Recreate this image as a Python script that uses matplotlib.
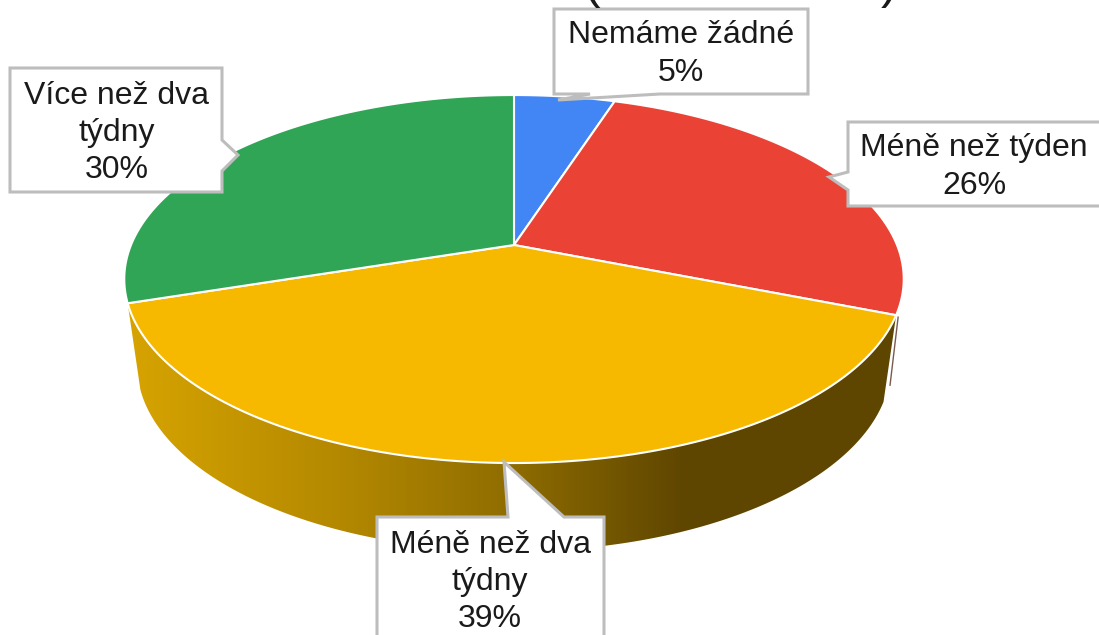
#coding:utf-8
import numpy as np
from matplotlib import pyplot as plt
from matplotlib.colors import LinearSegmentedColormap
from matplotlib.patches import Polygon

plt.rcParams['font.family'] = ['Liberation Sans', 'DejaVu Sans']

# data
categories = ['Nemáme žádné', 'Méně než týden', 'Méně než dva\ntýdny', 'Více než dva\ntýdny']
shares = [5, 26, 39, 30]
colors = ['#4285f4', '#ea4335', '#f7b900', '#30a555']

# pie geometry in pixels (perspective view of a disc)
CX, CY = 514, 245
R, A, K = 383, 177.7, 0.185
LOW_CY, LOW_SX, LOW_SY = 331, 0.967, 1.01

# callouts: box x0, x1, y0, y1 and pointer outline, text centre
boxes = [
    ((554, 808, 9, 94), [(660, 94), (558, 100), (590, 94)], 'bottom', (681, 54)),
    ((848, 1110, 122, 206), [(848, 190), (829, 177), (848, 172)], 'left', (974, 167)),
    ((377, 604, 517, 650), [(508, 517), (504, 462), (564, 517)], 'top', (490, 582)),
    ((10, 222, 68, 192), [(222, 140), (238, 155), (222, 171)], 'right', (117, 133)),
]


def rim(deg):
    # clockwise angle from 12 o'clock -> pixel on the top disc
    t = np.radians(deg)
    u, v = np.sin(t), np.cos(t)
    d = 1 + K * v
    return CX + R * u / d, CY - A * v / d


def low_rim(deg):
    x, y = rim(deg)
    return CX + LOW_SX * (x - CX), LOW_CY + LOW_SY * (y - CY)


def callout(box, pointer, side):
    x0, x1, y0, y1 = box
    if side == 'bottom':
        pts = [(x0, y0), (x1, y0), (x1, y1)] + pointer + [(x0, y1)]
    elif side == 'left':
        pts = [(x0, y0), (x1, y0), (x1, y1), (x0, y1)] + pointer
    elif side == 'top':
        pts = [(x0, y0)] + pointer + [(x1, y0), (x1, y1), (x0, y1)]
    else:
        pts = [(x0, y0), (x1, y0)] + pointer + [(x1, y1), (x0, y1)]
    return pts


fig = plt.figure(figsize=(10.99, 6.35), dpi=100)
ax = fig.add_axes([0, 0, 1, 1])

edges = 360 * np.cumsum([0] + shares) / sum(shares)

# side wall of the yellow slice, shaded left to right
a0, a1 = edges[2], edges[3]
ang = np.linspace(a0, a1, 200)
side_pts = np.vstack([np.column_stack(rim(ang)), np.column_stack(low_rim(ang[::-1]))])
side_cmap = LinearSegmentedColormap.from_list('side', [
    (0.0, '#d6a300'), (0.28, '#b38800'), (0.50, '#8e6c00'), (0.72, '#5f4600'), (1.0, '#5f4600')])
img = ax.imshow(np.linspace(0, 1, 400)[None, :], cmap=side_cmap, aspect='auto',
                extent=(128, 900, 600, 280), zorder=1)
clip = Polygon(side_pts, closed=True, transform=ax.transData, fc='none', ec='none')
ax.add_patch(clip)
img.set_clip_path(clip)

# thin sliver of the red wall at the right edge
x_r, y_r = rim(a0)
x_l, y_l = low_rim(a0 - 3)
ax.plot([x_r + 2, x_l + 3], [y_r + 2, y_r + 70], color='#7a5a50', lw=1, zorder=1)

# top of the pie
for i in range(len(shares)):
    ang = np.linspace(edges[i], edges[i + 1], 200)
    x, y = rim(ang)
    pts = np.vstack([[CX, CY], np.column_stack([x, y])])
    ax.add_patch(Polygon(pts, closed=True, fc=colors[i], ec='white', lw=1.5, zorder=2,
                         joinstyle='round'))

# labels
for i, (box, pointer, side, centre) in enumerate(boxes):
    ax.add_patch(Polygon(callout(box, pointer, side), closed=True, fc='white', ec='#bdbdbd',
                         lw=2.2, zorder=3, joinstyle='miter'))
    ax.text(centre[0], centre[1], '%s\n%d%%' % (categories[i], shares[i]), ha='center', va='center',
            fontsize=23, color='#1a1a1a', linespacing=1.32, zorder=4)

# bottom of the cut off title
ax.text(592, -15, '(', ha='center', va='center', fontsize=36, color='#1a1a1a', zorder=4)
ax.text(889, -15, ')', ha='center', va='center', fontsize=36, color='#1a1a1a', zorder=4)

ax.set_xlim(0, 1099)
ax.set_ylim(635, 0)
ax.axis('off')
plt.savefig('out.png', dpi=100)
